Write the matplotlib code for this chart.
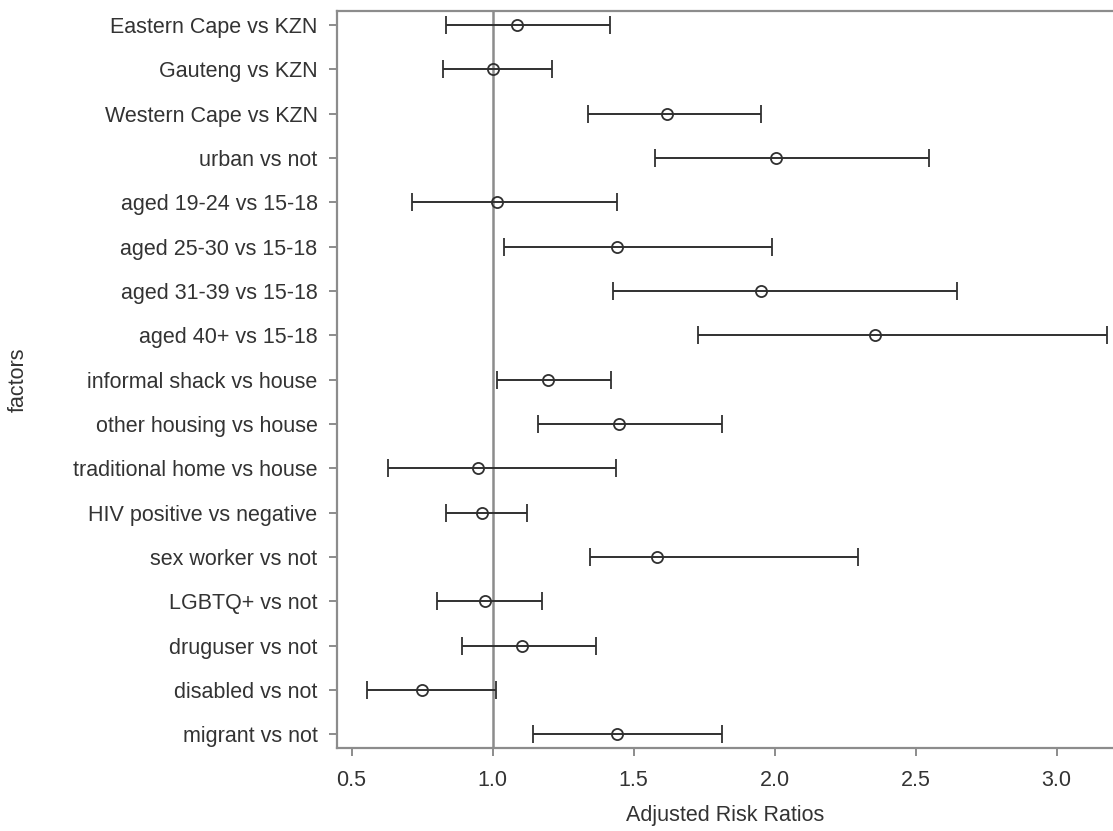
import numpy as np
import matplotlib.pyplot as plt

plt.rcParams['font.family'] = ['Liberation Sans', 'DejaVu Sans']

factors = ["Eastern Cape vs KZN", "Gauteng vs KZN", "Western Cape vs KZN",
           "urban vs not", "aged 19-24 vs 15-18", "aged 25-30 vs 15-18",
           "aged 31-39 vs 15-18", "aged 40+ vs 15-18", "informal shack vs house",
           "other housing vs house", "traditional home vs house",
           "HIV positive vs negative", "sex worker vs not", "LGBTQ+ vs not",
           "druguser vs not", "disabled vs not", "migrant vs not"]
rr = [1.086, 1.0, 1.618, 2.005, 1.016, 1.44, 1.953, 2.357, 1.196,
      1.448, 0.950, 0.963, 1.582, 0.974, 1.103, 0.751, 1.443]
lower = [0.835, 0.823, 1.337, 1.577, 0.716, 1.042, 1.428, 1.728, 1.016,
         1.160, 0.630, 0.835, 1.347, 0.804, 0.893, 0.555, 1.143]
upper = [1.417, 1.212, 1.953, 2.549, 1.440, 1.992, 2.646, 3.180, 1.421,
         1.813, 1.437, 1.122, 2.296, 1.174, 1.366, 1.013, 1.813]

rr = np.array(rr)
lower = np.array(lower)
upper = np.array(upper)
ypos = np.arange(len(factors))

fig = plt.figure(figsize=(11.13, 8.31), dpi=100)
ax = fig.add_axes([0.3028, 0.0999, 0.6972, 0.8869])

ax.axvline(1.0, color='#8c8c8c', lw=1.8, zorder=1)
ax.errorbar(rr, ypos, xerr=[rr - lower, upper - rr], fmt='o', color='#303030',
            ecolor='#303030', elinewidth=1.4, capsize=6.5, capthick=1.4,
            mfc='none', mec='#303030', ms=8, mew=1.3, zorder=3)

ax.set_xlim(0.4486, 3.20)
ax.set_ylim(16.31, -0.32)
ax.set_yticks(ypos)
ax.set_yticklabels(factors)
ax.set_xticks([0.5, 1.0, 1.5, 2.0, 2.5, 3.0])
ax.set_xticklabels(['0.5', '1.0', '1.5', '2.0', '2.5', '3.0'])

for s in ['left', 'bottom', 'top']:
    ax.spines[s].set_color('#8c8c8c')
    ax.spines[s].set_linewidth(1.6)
ax.spines['right'].set_visible(False)
ax.tick_params(axis='both', colors='#8c8c8c', labelcolor='#333333',
               labelsize=15.5, length=6, width=1.4)
ax.tick_params(axis='y', pad=8)
ax.tick_params(axis='x', pad=10)

ax.set_xlabel('Adjusted Risk Ratios', fontsize=15.5, color='#333333', labelpad=10)
fig.text(18 / 1113, 0.5433, 'factors', rotation=90, fontsize=15.5,
         color='#333333', ha='center', va='center')

fig.savefig('out.png', dpi=100)
